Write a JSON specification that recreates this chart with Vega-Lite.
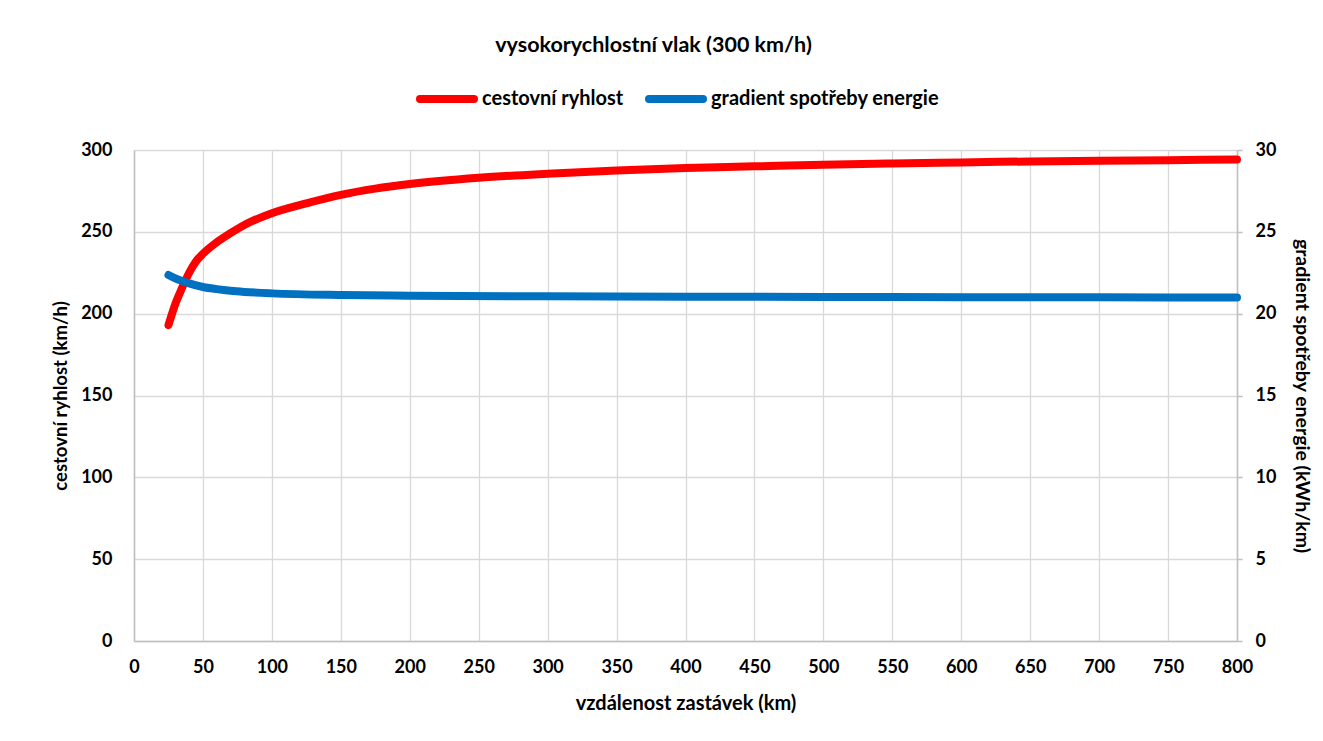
{
  "$schema": "https://vega.github.io/schema/vega-lite/v6.json",
  "autosize": "none",
  "width": 1103,
  "height": 491,
  "padding": {"left": 134, "top": 150, "right": 86, "bottom": 100},
  "background": "white",
  "title": {
    "text": "vysokorychlostní vlak (300 km/h)",
    "font": "Lato",
    "fontSize": 21.5,
    "fontWeight": "bold",
    "color": "#000000",
    "anchor": "middle",
    "dx": -32,
    "offset": 12
  },
  "config": {
    "view": {"stroke": null},
    "font": "Lato",
    "axis": {
      "labelFont": "Lato",
      "labelFontSize": 18,
      "labelFontWeight": "bold",
      "labelColor": "#000000",
      "titleFont": "Lato",
      "titleFontSize": 19.5,
      "titleFontWeight": "bold",
      "titleColor": "#000000",
      "domainColor": "#BFBFBF",
      "domainWidth": 1.5,
      "gridColor": "#D9D9D9",
      "gridWidth": 1.3,
      "tickColor": "#BFBFBF",
      "tickWidth": 1.5
    }
  },
  "data": {
    "values": [
      {"d": 25, "series": "cestovní ryhlost", "value": 193},
      {"d": 30, "series": "cestovní ryhlost", "value": 206},
      {"d": 35, "series": "cestovní ryhlost", "value": 216},
      {"d": 40, "series": "cestovní ryhlost", "value": 225},
      {"d": 45, "series": "cestovní ryhlost", "value": 232},
      {"d": 50, "series": "cestovní ryhlost", "value": 236.6},
      {"d": 60, "series": "cestovní ryhlost", "value": 243.6},
      {"d": 70, "series": "cestovní ryhlost", "value": 249.2},
      {"d": 80, "series": "cestovní ryhlost", "value": 254.2},
      {"d": 90, "series": "cestovní ryhlost", "value": 258.1},
      {"d": 100, "series": "cestovní ryhlost", "value": 261.4},
      {"d": 125, "series": "cestovní ryhlost", "value": 267.4},
      {"d": 150, "series": "cestovní ryhlost", "value": 272.6},
      {"d": 175, "series": "cestovní ryhlost", "value": 276.4},
      {"d": 200, "series": "cestovní ryhlost", "value": 279.2},
      {"d": 250, "series": "cestovní ryhlost", "value": 283},
      {"d": 300, "series": "cestovní ryhlost", "value": 285.5},
      {"d": 350, "series": "cestovní ryhlost", "value": 287.5},
      {"d": 400, "series": "cestovní ryhlost", "value": 289},
      {"d": 450, "series": "cestovní ryhlost", "value": 290},
      {"d": 500, "series": "cestovní ryhlost", "value": 291},
      {"d": 550, "series": "cestovní ryhlost", "value": 291.8},
      {"d": 600, "series": "cestovní ryhlost", "value": 292.4},
      {"d": 650, "series": "cestovní ryhlost", "value": 293},
      {"d": 700, "series": "cestovní ryhlost", "value": 293.4},
      {"d": 750, "series": "cestovní ryhlost", "value": 293.8},
      {"d": 800, "series": "cestovní ryhlost", "value": 294.2},
      {"d": 25, "series": "gradient spotřeby energie", "value": 22.36},
      {"d": 30, "series": "gradient spotřeby energie", "value": 22.15},
      {"d": 40, "series": "gradient spotřeby energie", "value": 21.85},
      {"d": 50, "series": "gradient spotřeby energie", "value": 21.63},
      {"d": 60, "series": "gradient spotřeby energie", "value": 21.5},
      {"d": 70, "series": "gradient spotřeby energie", "value": 21.4},
      {"d": 80, "series": "gradient spotřeby energie", "value": 21.33},
      {"d": 100, "series": "gradient spotřeby energie", "value": 21.24},
      {"d": 150, "series": "gradient spotřeby energie", "value": 21.14},
      {"d": 200, "series": "gradient spotřeby energie", "value": 21.1},
      {"d": 300, "series": "gradient spotřeby energie", "value": 21.06},
      {"d": 400, "series": "gradient spotřeby energie", "value": 21.04},
      {"d": 500, "series": "gradient spotřeby energie", "value": 21.02},
      {"d": 600, "series": "gradient spotřeby energie", "value": 21.01},
      {"d": 700, "series": "gradient spotřeby energie", "value": 21.0},
      {"d": 800, "series": "gradient spotřeby energie", "value": 20.99}
    ]
  },
  "encoding": {
    "x": {
      "field": "d",
      "type": "quantitative",
      "scale": {"domain": [0, 800], "nice": false, "zero": true},
      "axis": {
        "title": "vzdálenost zastávek (km)",
        "values": [0, 50, 100, 150, 200, 250, 300, 350, 400, 450, 500, 550, 600, 650, 700, 750, 800],
        "grid": true,
        "ticks": false,
        "tickSize": 0,
        "labelPadding": 17,
        "titlePadding": 17,
        "titleFontSize": 20,
        "labelFlush": false
      }
    },
    "color": {
      "field": "series",
      "type": "nominal",
      "scale": {
        "domain": ["cestovní ryhlost", "gradient spotřeby energie"],
        "range": ["#FF0000", "#0070C0"]
      },
      "legend": {
        "title": null,
        "orient": "none",
        "direction": "horizontal",
        "legendX": 282,
        "legendY": -82,
        "symbolType": "stroke",
        "symbolSize": 2916,
        "symbolStrokeWidth": 8,
        "labelFont": "Lato",
        "labelFontSize": 20,
        "labelFontWeight": "bold",
        "labelColor": "#000000",
        "labelLimit": 400,
        "labelOffset": 4,
        "columnPadding": 9,
        "encode": {"symbols": {"update": {"strokeCap": {"value": "round"}}}}
      }
    }
  },
  "layer": [
    {
      "transform": [{"filter": "datum.series === 'cestovní ryhlost'"}],
      "mark": {"type": "line", "strokeWidth": 8, "strokeCap": "round", "strokeJoin": "round", "interpolate": "monotone"},
      "encoding": {
        "y": {
          "field": "value",
          "type": "quantitative",
          "scale": {"domain": [0, 300], "nice": false},
          "axis": {
            "orient": "left",
            "title": "cestovní ryhlost (km/h)",
            "values": [0, 50, 100, 150, 200, 250, 300],
            "grid": true,
            "ticks": false,
            "tickSize": 0,
            "labelPadding": 22,
            "titlePadding": 10,
            "titleFontSize": 18.5,
            "labelFlush": false
          }
        }
      }
    },
    {
      "transform": [{"filter": "datum.series === 'gradient spotřeby energie'"}],
      "mark": {"type": "line", "strokeWidth": 8, "strokeCap": "round", "strokeJoin": "round", "interpolate": "monotone"},
      "encoding": {
        "y": {
          "field": "value",
          "type": "quantitative",
          "scale": {"domain": [0, 30], "nice": false},
          "axis": {
            "orient": "right",
            "title": "gradient spotřeby energie (kWh/km)",
            "values": [0, 5, 10, 15, 20, 25, 30],
            "grid": false,
            "ticks": true,
            "tickSize": 5,
            "labelPadding": 13,
            "titlePadding": 16,
            "labelFlush": false
          }
        }
      }
    }
  ],
  "resolve": {"scale": {"y": "independent"}}
}
